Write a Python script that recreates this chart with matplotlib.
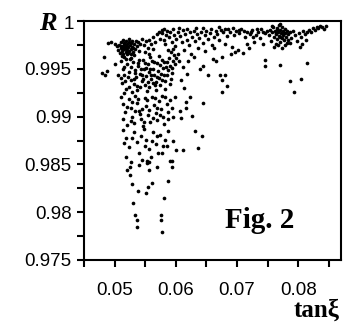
import numpy as np
import matplotlib
matplotlib.use("Agg")
import matplotlib.pyplot as plt
from matplotlib.ticker import MultipleLocator, FixedLocator

# ---- data (tanξ, R1), grouped by region ----
left_pts = [(0.0480, 0.9946), (0.0484, 0.9944), (0.0487, 0.9948), (0.0483, 0.9962),
            (0.0501, 0.9955), (0.0490, 0.9977), (0.0494, 0.9978), (0.0500, 0.9976),
            (0.0504, 0.9974), (0.0506, 0.9970), (0.0505, 0.9943)]

blob_pts = [(0.0508, 0.9975), (0.0510, 0.9972), (0.0511, 0.9978), (0.0512, 0.9969), (0.0513, 0.9974),
            (0.0514, 0.9966), (0.0515, 0.9971), (0.0516, 0.9977), (0.0517, 0.9973), (0.0518, 0.9968),
            (0.0519, 0.9975), (0.0520, 0.9970), (0.0521, 0.9965), (0.0522, 0.9973), (0.0523, 0.9978),
            (0.0524, 0.9969), (0.0525, 0.9975), (0.0526, 0.9971), (0.0527, 0.9966), (0.0528, 0.9979),
            (0.0529, 0.9973), (0.0530, 0.9968), (0.0532, 0.9976), (0.0533, 0.9971), (0.0535, 0.9979),
            (0.0512, 0.9963), (0.0516, 0.9962), (0.0520, 0.9976), (0.0509, 0.9967), (0.0514, 0.9980),
            (0.0524, 0.9981), (0.0531, 0.9964), (0.0518, 0.9979), (0.0527, 0.9961), (0.0522, 0.9967),
            (0.0513, 0.9971), (0.0536, 0.9974), (0.0538, 0.9978), (0.0540, 0.9969), (0.0542, 0.9976),
            (0.0515, 0.9975), (0.0521, 0.9968), (0.0526, 0.9977), (0.0530, 0.9972), (0.0519, 0.9972),
            (0.0511, 0.9974)]

toprow_pts = [(0.0545, 0.9981), (0.0548, 0.9975), (0.0551, 0.9979), (0.0554, 0.9972), (0.0557, 0.9980),
              (0.0560, 0.9976), (0.0563, 0.9983), (0.0566, 0.9978), (0.0569, 0.9986), (0.0572, 0.9989),
              (0.0574, 0.9981), (0.0577, 0.9991), (0.0550, 0.9968), (0.0556, 0.9966), (0.0562, 0.9971)]

layer2_pts = [(0.0510, 0.9958), (0.0513, 0.9950), (0.0516, 0.9943), (0.0512, 0.9935), (0.0518, 0.9929),
              (0.0521, 0.9955), (0.0524, 0.9947), (0.0526, 0.9938), (0.0523, 0.9931), (0.0528, 0.9926),
              (0.0530, 0.9957), (0.0533, 0.9949), (0.0535, 0.9941), (0.0532, 0.9934), (0.0537, 0.9928),
              (0.0539, 0.9953), (0.0541, 0.9945), (0.0544, 0.9937), (0.0542, 0.9931), (0.0546, 0.9959),
              (0.0548, 0.9950), (0.0551, 0.9942), (0.0549, 0.9933), (0.0553, 0.9927), (0.0555, 0.9955),
              (0.0557, 0.9947), (0.0559, 0.9939), (0.0556, 0.9931), (0.0561, 0.9958), (0.0563, 0.9950),
              (0.0565, 0.9943), (0.0562, 0.9935), (0.0567, 0.9928), (0.0569, 0.9956), (0.0571, 0.9948),
              (0.0573, 0.9940), (0.0575, 0.9933), (0.0577, 0.9959), (0.0579, 0.9951), (0.0581, 0.9944),
              (0.0583, 0.9937), (0.0585, 0.9957), (0.0587, 0.9949), (0.0589, 0.9961), (0.0591, 0.9953),
              (0.0593, 0.9946), (0.0595, 0.9958), (0.0597, 0.9964), (0.0599, 0.9955), (0.0601, 0.9961),
              (0.0519, 0.9960), (0.0527, 0.9952), (0.0538, 0.9956), (0.0545, 0.9944), (0.0552, 0.9951),
              (0.0560, 0.9943), (0.0568, 0.9936), (0.0576, 0.9945), (0.0584, 0.9952), (0.0515, 0.9952),
              (0.0534, 0.9946), (0.0547, 0.9939), (0.0558, 0.9962), (0.0574, 0.9954), (0.0582, 0.9929),
              (0.0592, 0.9939), (0.0603, 0.9966), (0.0605, 0.9958),
              (0.0511, 0.9940), (0.0517, 0.9937), (0.0522, 0.9941), (0.0525, 0.9960), (0.0531, 0.9939),
              (0.0536, 0.9932), (0.0540, 0.9959), (0.0543, 0.9950), (0.0550, 0.9956), (0.0554, 0.9936),
              (0.0558, 0.9950), (0.0564, 0.9957), (0.0566, 0.9933), (0.0570, 0.9941), (0.0572, 0.9963),
              (0.0578, 0.9938), (0.0580, 0.9957), (0.0586, 0.9944), (0.0590, 0.9934), (0.0594, 0.9951)]

layer3_pts = [(0.0511, 0.9921), (0.0514, 0.9913), (0.0517, 0.9905), (0.0513, 0.9897), (0.0520, 0.9891),
              (0.0523, 0.9918), (0.0526, 0.9909), (0.0529, 0.9900), (0.0531, 0.9893), (0.0534, 0.9922),
              (0.0537, 0.9914), (0.0540, 0.9906), (0.0543, 0.9897), (0.0546, 0.9890), (0.0549, 0.9919),
              (0.0552, 0.9911), (0.0555, 0.9902), (0.0558, 0.9894), (0.0561, 0.9920), (0.0564, 0.9912),
              (0.0567, 0.9904), (0.0570, 0.9896), (0.0573, 0.9916), (0.0576, 0.9908), (0.0579, 0.9900),
              (0.0582, 0.9921), (0.0585, 0.9913), (0.0588, 0.9905), (0.0591, 0.9917), (0.0594, 0.9909),
              (0.0598, 0.9920), (0.0607, 0.9906), (0.0609, 0.9899), (0.0617, 0.9915), (0.0617, 0.9909),
              (0.0624, 0.9920), (0.0627, 0.9901), (0.0528, 0.9915), (0.0545, 0.9908), (0.0562, 0.9899),
              (0.0580, 0.9892),
              (0.0516, 0.9925), (0.0521, 0.9910), (0.0527, 0.9895), (0.0533, 0.9906), (0.0539, 0.9918),
              (0.0542, 0.9903), (0.0548, 0.9894), (0.0553, 0.9917), (0.0557, 0.9907), (0.0566, 0.9919),
              (0.0569, 0.9909), (0.0574, 0.9902), (0.0578, 0.9922), (0.0587, 0.9897), (0.0596, 0.9900)]

layer4_pts = [(0.0513, 0.9886), (0.0519, 0.9878), (0.0524, 0.9868), (0.0518, 0.9858), (0.0527, 0.9852),
              (0.0532, 0.9884), (0.0536, 0.9873), (0.0540, 0.9862), (0.0545, 0.9855), (0.0548, 0.9887),
              (0.0552, 0.9876), (0.0556, 0.9866), (0.0559, 0.9858), (0.0563, 0.9884), (0.0567, 0.9871),
              (0.0571, 0.9862), (0.0575, 0.9881), (0.0579, 0.9869), (0.0583, 0.9876), (0.0587, 0.9885),
              (0.0596, 0.9875), (0.0600, 0.9865), (0.0612, 0.9865), (0.0632, 0.9885), (0.0643, 0.9880),
              (0.0637, 0.9867), (0.0594, 0.9854), (0.0594, 0.9847), (0.0553, 0.9854), (0.0553, 0.9851),
              (0.0516, 0.9872), (0.0529, 0.9878), (0.0543, 0.9880), (0.0550, 0.9869), (0.0561, 0.9875),
              (0.0569, 0.9880), (0.0577, 0.9862), (0.0585, 0.9869)]

low_pts = [(0.0520, 0.9844), (0.0525, 0.9839), (0.0525, 0.9847), (0.0529, 0.9830), (0.0539, 0.9822),
           (0.0530, 0.9810), (0.0534, 0.9797), (0.0537, 0.9792), (0.0537, 0.9785), (0.0540, 0.9849),
           (0.0552, 0.9820), (0.0555, 0.9826), (0.0561, 0.9831), (0.0557, 0.9844), (0.0557, 0.9852),
           (0.0570, 0.9847), (0.0576, 0.9797), (0.0576, 0.9792), (0.0578, 0.9779), (0.0581, 0.9815),
           (0.0588, 0.9833), (0.0591, 0.9854)]

column_pts = [(0.0578, 0.9987), (0.0581, 0.9992), (0.0584, 0.9985), (0.0586, 0.9990), (0.0589, 0.9983),
              (0.0591, 0.9988), (0.0593, 0.9978), (0.0595, 0.9992), (0.0597, 0.9985), (0.0599, 0.9974),
              (0.0601, 0.9981), (0.0583, 0.9976), (0.0588, 0.9970), (0.0592, 0.9968), (0.0596, 0.9971),
              (0.0580, 0.9980)]

band_pts = [(0.0604, 0.9989), (0.0607, 0.9984), (0.0610, 0.9978), (0.0612, 0.9991), (0.0615, 0.9986),
            (0.0618, 0.9980), (0.0621, 0.9975), (0.0623, 0.9988), (0.0626, 0.9983), (0.0629, 0.9990),
            (0.0632, 0.9979), (0.0635, 0.9986), (0.0638, 0.9982), (0.0641, 0.9989), (0.0644, 0.9977),
            (0.0647, 0.9985), (0.0650, 0.9990), (0.0653, 0.9981), (0.0656, 0.9987), (0.0659, 0.9975),
            (0.0662, 0.9983), (0.0665, 0.9990), (0.0668, 0.9986), (0.0671, 0.9980), (0.0674, 0.9991),
            (0.0677, 0.9988), (0.0680, 0.9976), (0.0683, 0.9984), (0.0686, 0.9992), (0.0689, 0.9989),
            (0.0692, 0.9973), (0.0695, 0.9985), (0.0698, 0.9990), (0.0701, 0.9970), (0.0704, 0.9987),
            (0.0707, 0.9992), (0.0710, 0.9967), (0.0713, 0.9983), (0.0716, 0.9989), (0.0719, 0.9972),
            (0.0722, 0.9986), (0.0725, 0.9991), (0.0728, 0.9978), (0.0731, 0.9985), (0.0734, 0.9989),
            (0.0737, 0.9982), (0.0740, 0.9992), (0.0743, 0.9976), (0.0746, 0.9987), (0.0690, 0.9966),
            (0.0697, 0.9968), (0.0717, 0.9976), (0.0726, 0.9983), (0.0662, 0.9972), (0.0636, 0.9972),
            (0.0648, 0.9969), (0.0613, 0.9970), (0.0625, 0.9966),
            (0.0606, 0.9993), (0.0619, 0.9992), (0.0633, 0.9993), (0.0645, 0.9993), (0.0658, 0.9992),
            (0.0670, 0.9994), (0.0680, 0.9992), (0.0693, 0.9993), (0.0703, 0.9991), (0.0712, 0.9990),
            (0.0723, 0.9988), (0.0733, 0.9992), (0.0742, 0.9989), (0.0749, 0.9990)]

cluster_pts = [(0.0752, 0.9985), (0.0754, 0.9991), (0.0756, 0.9979), (0.0758, 0.9988), (0.0759, 0.9994),
               (0.0761, 0.9983), (0.0762, 0.9990), (0.0763, 0.9976), (0.0764, 0.9986), (0.0765, 0.9993),
               (0.0766, 0.9981), (0.0767, 0.9989), (0.0768, 0.9996), (0.0769, 0.9984), (0.0770, 0.9991),
               (0.0771, 0.9978), (0.0772, 0.9987), (0.0773, 0.9994), (0.0774, 0.9982), (0.0775, 0.9990),
               (0.0776, 0.9985), (0.0777, 0.9980), (0.0778, 0.9992), (0.0779, 0.9987), (0.0780, 0.9983),
               (0.0781, 0.9990), (0.0782, 0.9977), (0.0784, 0.9986), (0.0760, 0.9973), (0.0767, 0.9975),
               (0.0773, 0.9972), (0.0757, 0.9995), (0.0770, 0.9997), (0.0763, 0.9987), (0.0775, 0.9986),
               (0.0771, 0.9983), (0.0766, 0.9991), (0.0779, 0.9975), (0.0783, 0.9980)]

right_pts = [(0.0786, 0.9988), (0.0789, 0.9982), (0.0792, 0.9990), (0.0795, 0.9985), (0.0798, 0.9979),
             (0.0801, 0.9987), (0.0804, 0.9983), (0.0806, 0.9976), (0.0808, 0.9990), (0.0811, 0.9986),
             (0.0813, 0.9980), (0.0815, 0.9988), (0.0818, 0.9991), (0.0821, 0.9989), (0.0824, 0.9993),
             (0.0827, 0.9991), (0.0830, 0.9994), (0.0833, 0.9993), (0.0836, 0.9995), (0.0839, 0.9994),
             (0.0842, 0.9992), (0.0845, 0.9995), (0.0803, 0.9973), (0.0787, 0.9977)]

outlier_pts = [(0.0745, 0.9959), (0.0745, 0.9953), (0.0770, 0.9954), (0.0814, 0.9956), (0.0786, 0.9937),
               (0.0804, 0.9939), (0.0794, 0.9926), (0.0645, 0.9953), (0.0640, 0.9950), (0.0660, 0.9960),
               (0.0665, 0.9958), (0.0676, 0.9962), (0.0673, 0.9943), (0.0681, 0.9943), (0.0676, 0.9938),
               (0.0684, 0.9932), (0.0676, 0.9926), (0.0653, 0.9943), (0.0645, 0.9914), (0.0630, 0.9962),
               (0.0620, 0.9958), (0.0612, 0.9952), (0.0618, 0.9945), (0.0608, 0.9938), (0.0614, 0.9930)]

x_major = [0.05, 0.06, 0.07, 0.08]
x_labels = ["0.05", "0.06", "0.07", "0.08"]
y_major = [0.975, 0.98, 0.985, 0.99, 0.995, 1.0]
y_labels = ["0.975", "0.98", "0.985", "0.99", "0.995", ""]

groups = [left_pts, blob_pts, toprow_pts, layer2_pts, layer3_pts, layer4_pts, low_pts,
          column_pts, band_pts, cluster_pts, right_pts, outlier_pts]
pts = np.array([p for g in groups for p in g])

W, H = 343, 323
fig = plt.figure(figsize=(W / 100, H / 100), dpi=100)
ax = fig.add_axes([84 / W, 1 - 260 / H, (341 - 84) / W, (260 - 21) / H])

ax.scatter(pts[:, 0], pts[:, 1], s=7, c="black", linewidths=0)

ax.set_xlim(0.045, 0.087)
ax.set_ylim(0.975, 1.0)
ax.xaxis.set_major_locator(FixedLocator(x_major))
ax.set_xticklabels(x_labels)
ax.xaxis.set_minor_locator(MultipleLocator(0.005))
ax.yaxis.set_major_locator(FixedLocator(y_major))
ax.set_yticklabels(y_labels)
ax.yaxis.set_minor_locator(MultipleLocator(0.0025))

for sp in ax.spines.values():
    sp.set_linewidth(1.5)
ax.tick_params(axis="both", which="both", direction="out", length=5, width=1.5)
ax.tick_params(axis="y", which="major", pad=4)
ax.tick_params(axis="x", which="major", pad=11)
for lab in ax.get_xticklabels() + ax.get_yticklabels():
    lab.set_fontfamily("Liberation Sans")
    lab.set_fontsize(13.5)

fig.text(39 / W, 1 - 30 / H, "R", ha="left", va="baseline", fontfamily="Liberation Serif",
         fontweight="bold", fontstyle="italic", fontsize=19)
fig.text(64 / W, 1 - 29 / H, "1", ha="left", va="baseline", fontfamily="Liberation Sans",
         fontsize=13.5)
fig.text(260 / W, 1 - 228 / H, "Fig. 2", ha="center", va="baseline", fontfamily="Liberation Serif",
         fontweight="bold", fontsize=21)
fig.text(340 / W, 1 - 317 / H, "tanξ", ha="right", va="baseline", fontfamily="Liberation Serif",
         fontweight="bold", fontsize=18)

fig.savefig("out.png", dpi=100)
